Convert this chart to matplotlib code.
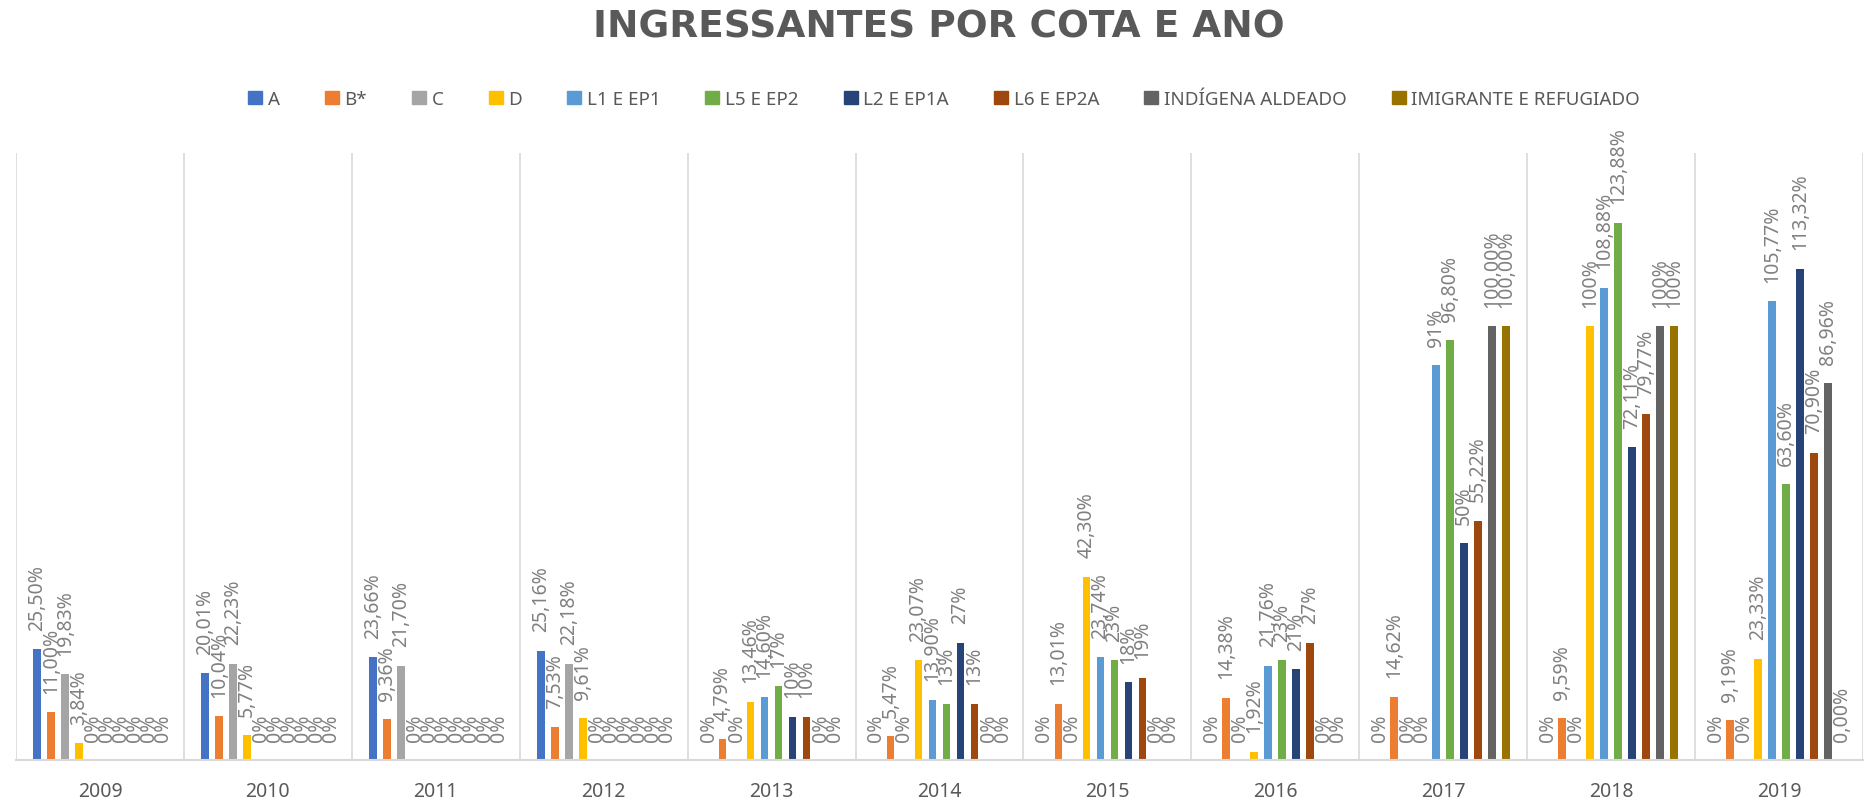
import numpy as np
import matplotlib
matplotlib.use("Agg")
import matplotlib.pyplot as plt
from matplotlib.patches import Patch

plt.rcParams['font.family'] = ['Noto Sans', 'DejaVu Sans']

years = ["2009", "2010", "2011", "2012", "2013", "2014", "2015", "2016", "2017", "2018", "2019"]
series = ["A", "B*", "C", "D", "L1 E EP1", "L5 E EP2", "L2 E EP1A", "L6 E EP2A",
          "INDÍGENA ALDEADO", "IMIGRANTE E REFUGIADO"]
colors = ["#4472C4", "#ED7D31", "#A5A5A5", "#FFC000", "#5B9BD5", "#70AD47",
          "#264478", "#9E480E", "#636363", "#997300"]

# percent values, one list per quota, 2009..2019
a_vals = [25.50, 20.01, 23.66, 25.16, 0, 0, 0, 0, 0, 0, 0]
b_vals = [11.00, 10.04, 9.36, 7.53, 4.79, 5.47, 13.01, 14.38, 14.62, 9.59, 9.19]
c_vals = [19.83, 22.23, 21.70, 22.18, 0, 0, 0, 0, 0, 0, 0]
d_vals = [3.84, 5.77, 0, 9.61, 13.46, 23.07, 42.30, 1.92, 0, 100, 23.33]
l1_vals = [0, 0, 0, 0, 14.60, 13.90, 23.74, 21.76, 91, 108.88, 105.77]
l5_vals = [0, 0, 0, 0, 17, 13, 23, 23, 96.80, 123.88, 63.60]
l2_vals = [0, 0, 0, 0, 10, 27, 18, 21, 50, 72.11, 113.32]
l6_vals = [0, 0, 0, 0, 10, 13, 19, 27, 55.22, 79.77, 70.90]
ind_vals = [0, 0, 0, 0, 0, 0, 0, 0, 100, 100, 86.96]
img_vals = [0, 0, 0, 0, 0, 0, 0, 0, 100, 100, 0]

# data label texts as printed on the chart
a_lbl = ["25,50%", "20,01%", "23,66%", "25,16%", "0%", "0%", "0%", "0%", "0%", "0%", "0%"]
b_lbl = ["11,00%", "10,04%", "9,36%", "7,53%", "4,79%", "5,47%", "13,01%", "14,38%", "14,62%", "9,59%", "9,19%"]
c_lbl = ["19,83%", "22,23%", "21,70%", "22,18%", "0%", "0%", "0%", "0%", "0%", "0%", "0%"]
d_lbl = ["3,84%", "5,77%", "0%", "9,61%", "13,46%", "23,07%", "42,30%", "1,92%", "0%", "100%", "23,33%"]
l1_lbl = ["0%", "0%", "0%", "0%", "14,60%", "13,90%", "23,74%", "21,76%", "91%", "108,88%", "105,77%"]
l5_lbl = ["0%", "0%", "0%", "0%", "17%", "13%", "23%", "23%", "96,80%", "123,88%", "63,60%"]
l2_lbl = ["0%", "0%", "0%", "0%", "10%", "27%", "18%", "21%", "50%", "72,11%", "113,32%"]
l6_lbl = ["0%", "0%", "0%", "0%", "10%", "13%", "19%", "27%", "55,22%", "79,77%", "70,90%"]
ind_lbl = ["0%", "0%", "0%", "0%", "0%", "0%", "0%", "0%", "100,00%", "100%", "86,96%"]
img_lbl = ["0%", "0%", "0%", "0%", "0%", "0%", "0%", "0%", "100,00%", "100%", "0,00%"]

values = [a_vals, b_vals, c_vals, d_vals, l1_vals, l5_vals, l2_vals, l6_vals, ind_vals, img_vals]
labels = [a_lbl, b_lbl, c_lbl, d_lbl, l1_lbl, l5_lbl, l2_lbl, l6_lbl, ind_lbl, img_lbl]

fig = plt.figure(figsize=(18.7, 8.03), dpi=100)
ax = fig.add_axes([16 / 1870, 42 / 803, 1847 / 1870, 607 / 803])

x = np.arange(len(years))
slot = 0.0834
width = 0.046
for i, (name, vals, lbls, col) in enumerate(zip(series, values, labels, colors)):
    xs = x + (i - 4.5) * slot
    ax.bar(xs, vals, width=width, color=col)
    for xi, v, t in zip(xs, vals, lbls):
        ax.annotate(t, (xi, v), xytext=(0, 14), textcoords="offset points",
                    rotation=90, ha="center", va="bottom", fontsize=14, color="#808080")

ax.set_xlim(-0.5, len(years) - 0.5)
ax.set_ylim(0, 140)
ax.set_yticks([])
ax.set_xticks(x)
ax.set_xticklabels(years, fontsize=14, color="#595959")
ax.tick_params(axis="x", length=0, pad=15)
ax.set_xticks(np.arange(-0.5, len(years), 1), minor=True)
ax.tick_params(axis="x", which="minor", length=0)
ax.grid(which="minor", axis="x", color="#d9d9d9", lw=1.2)
for s in ["top", "left", "right"]:
    ax.spines[s].set_visible(False)
ax.spines["bottom"].set_color("#d9d9d9")
ax.spines["bottom"].set_linewidth(1.5)

fig.text(0.502, 1 - 27 / 803, "INGRESSANTES POR COTA E ANO", ha="center", va="center",
         fontsize=27, fontweight="bold", color="#595959", family="DejaVu Sans")

handles = [Patch(color=c) for c in colors]
fig.legend(handles, series, loc="center", bbox_to_anchor=(944 / 1870, 1 - 100 / 803),
           ncol=10, frameon=False, fontsize=13.5, labelcolor="#595959",
           handlelength=0.75, handleheight=0.75, handletextpad=0.3, columnspacing=2.4)

fig.savefig("out.png", dpi=100)
